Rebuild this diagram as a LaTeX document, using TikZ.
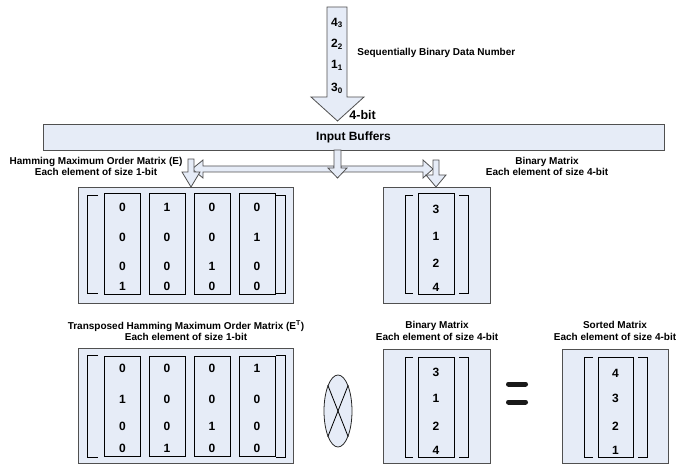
\documentclass[tikz,border=0pt]{standalone}
\usepackage{fontspec}
\setmainfont{Liberation Sans}
\usetikzlibrary{shapes.geometric}
\definecolor{paleblue}{HTML}{E6ECF7}
\definecolor{edgegray}{HTML}{505050}

\begin{document}
\begin{tikzpicture}[x=1pt,y=-1pt,font=\bfseries,line width=0.8pt]
\tikzset{panel/.style={draw=edgegray,fill=paleblue,inner sep=0pt},
  colbox/.style={draw=black,fill=paleblue,inner sep=0pt,minimum width=36pt,minimum height=101pt},
  blockarrow/.style={draw=edgegray,fill=paleblue,line join=miter},
  bracket/.style={draw=black},
  caption/.style={align=center,inner sep=0pt,font=\fontsize{10}{11.5}\selectfont\bfseries},
  digit/.style={inner sep=0pt,font=\fontsize{12}{14}\selectfont\bfseries}}
\useasboundingbox (0,0) rectangle (678,465);
% incoming data stream
\draw[blockarrow] (327,7) -- (347,7) -- (347,97) -- (364,97) -- (337.5,121) -- (311,97) -- (327,97) -- cycle;
\node[digit] (in3) at (337,23) {4\textsubscript{3}};
\node[digit] (in2) at (337,44) {2\textsubscript{2}};
\node[digit] (in1) at (337,65) {1\textsubscript{1}};
\node[digit] (in0) at (337,88) {3\textsubscript{0}};
\node[caption,anchor=west] (seq) at (357,53) {Sequentially Binary Data Number};
\node[anchor=west,inner sep=0pt,font=\fontsize{12.5}{14}\selectfont\bfseries] (width) at (349,115) {4-bit};
\node[panel,minimum width=621pt,minimum height=26pt,font=\fontsize{12}{14}\selectfont\bfseries] (buf) at (353.5,137) {Input Buffers};
% split towards both matrices
\draw[blockarrow] (334,166) -- (203,166) -- (203,160) -- (192,169) -- (203,178) -- (203,172) -- (334,172) -- cycle;
\draw[blockarrow] (341,166) -- (423,166) -- (423,160) -- (433,169) -- (423,178) -- (423,172) -- (341,172) -- cycle;
\draw[blockarrow] (334,150) -- (341,150) -- (341,168) -- (347,168) -- (337.5,178) -- (328,168) -- (334,168) -- cycle;
\draw[blockarrow] (188,159) -- (194,159) -- (194,172) -- (200,172) -- (191,187) -- (182,172) -- (188,172) -- cycle;
\draw[blockarrow] (433,160) -- (439,160) -- (439,175) -- (446,175) -- (436,187) -- (426,175) -- (433,175) -- cycle;
\node[caption] (etitle) at (96,166.5) {Hamming Maximum Order Matrix (E)\\Each element of size 1-bit};
\node[caption] (btitle) at (547,166.5) {Binary Matrix\\Each element of size 4-bit};
% hamming matrix E
\node[panel,minimum width=215pt,minimum height=116pt] (emat) at (185.5,245) {};
\draw[bracket] (98,195) -| (87,293) -- (98,293);
\draw[bracket] (276,195) -| (285,293) -- (276,293);
\foreach \cx/\va/\vb/\vc/\vd [count=\i] in {122.5/0/0/0/1,167/1/0/0/0,212/0/0/1/0,257/0/1/0/0} {
  \node[colbox] (ecol\i) at (\cx,243.5) {};
  \node[digit] (e\i a) at (\cx,207) {\va};
  \node[digit] (e\i b) at (\cx,237) {\vb};
  \node[digit] (e\i c) at (\cx,266) {\vc};
  \node[digit] (e\i d) at (\cx,286) {\vd};
}
% binary matrix
\node[panel,minimum width=107pt,minimum height=116pt] (bmat) at (436.5,245) {};
\draw[bracket] (413,195) -| (405,293) -- (413,293);
\draw[bracket] (459,195) -| (468,293) -- (459,293);
\node[colbox] (bcol) at (436,243.5) {};
\node[digit] (b1) at (436,209) {3};
\node[digit] (b2) at (436,236) {1};
\node[digit] (b3) at (436,263) {2};
\node[digit] (b4) at (436,287) {4};
% product row
\node[caption] (ttitle) at (186,331) {Transposed Hamming Maximum Order Matrix (E\textsuperscript{T})\\Each element of size 1-bit};
\node[caption] (b2title) at (437,331) {Binary Matrix\\Each element of size 4-bit};
\node[caption] (stitle) at (615,331) {Sorted Matrix\\Each element of size 4-bit};
\node[panel,minimum width=215pt,minimum height=115pt] (tmat) at (185.5,405.5) {};
\draw[bracket] (98,355) -| (87,457) -- (98,457);
\draw[bracket] (276,355) -| (285,457) -- (276,457);
\foreach \cx/\va/\vb/\vc/\vd [count=\i] in {122.5/0/1/0/0,167/0/0/0/1,212/0/0/1/0,257/1/0/0/0} {
  \node[colbox,minimum height=100pt] (tcol\i) at (\cx,406) {};
  \node[digit] (t\i a) at (\cx,368) {\va};
  \node[digit] (t\i b) at (\cx,399) {\vb};
  \node[digit] (t\i c) at (\cx,426) {\vc};
  \node[digit] (t\i d) at (\cx,448) {\vd};
}
\node[draw=black!85,fill=paleblue,ellipse,minimum width=28pt,minimum height=72pt,inner sep=0pt] (times) at (338,411) {};
\draw (times.north west) -- (times.south east);
\draw (times.north east) -- (times.south west);
\node[panel,minimum width=107pt,minimum height=114pt] (b2mat) at (436.5,406) {};
\draw[bracket] (413,357) -| (405,457) -- (413,457);
\draw[bracket] (459,357) -| (468,457) -- (459,457);
\node[colbox,minimum height=100pt] (b2col) at (436,407) {};
\node[digit] (c1) at (436,372) {3};
\node[digit] (c2) at (436,398) {1};
\node[digit] (c3) at (436,426) {2};
\node[digit] (c4) at (436,450) {4};
\draw[line width=5pt,line cap=round,black!90] (508.5,384) -- (525.5,384);
\draw[line width=5pt,line cap=round,black!90] (508.5,402) -- (525.5,402);
\node[panel,minimum width=106pt,minimum height=114pt] (smat) at (615,406) {};
\draw[bracket] (593,357) -| (584,457) -- (593,457);
\draw[bracket] (638,357) -| (647,457) -- (638,457);
\node[colbox,minimum width=35pt,minimum height=100pt] (scol) at (615.5,407) {};
\node[digit] (s1) at (615.5,373) {4};
\node[digit] (s2) at (615.5,398) {3};
\node[digit] (s3) at (615.5,426) {2};
\node[digit] (s4) at (615.5,450) {1};
\end{tikzpicture}
\end{document}
